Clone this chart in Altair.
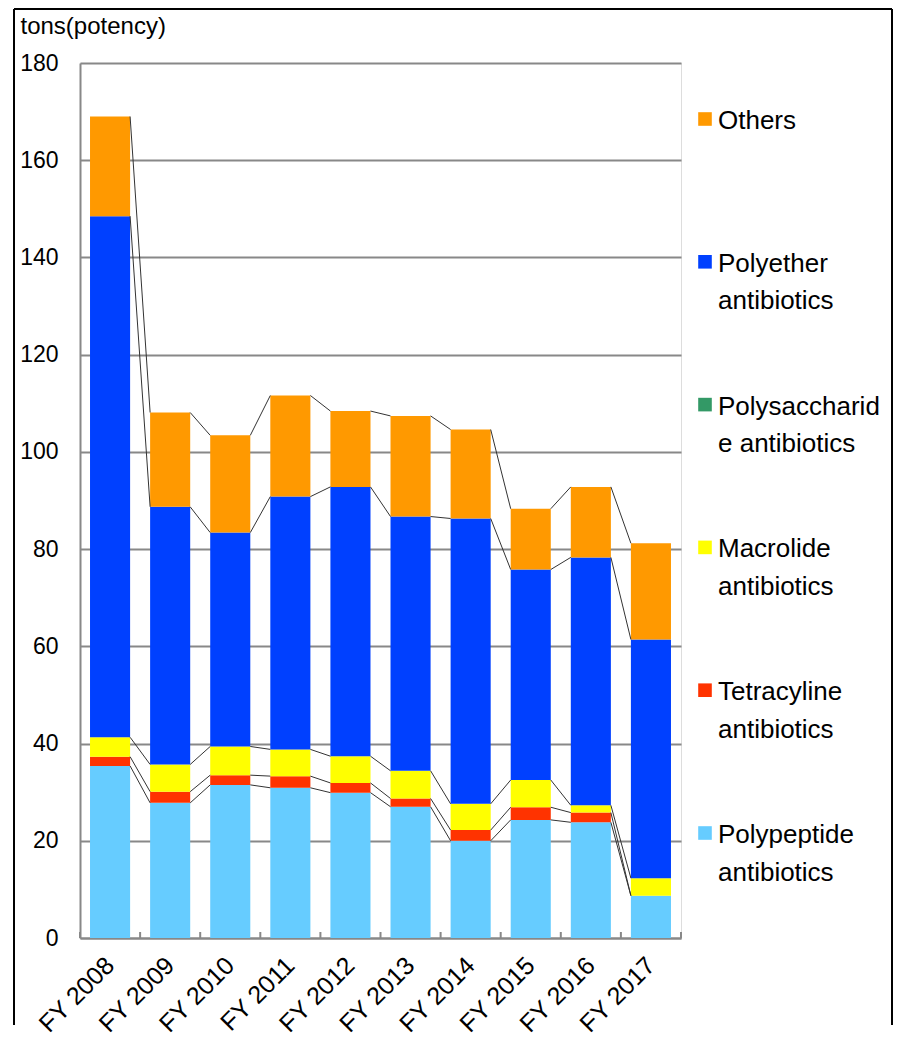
import altair as alt
import pandas as pd

years = ["FY 2008", "FY 2009", "FY 2010", "FY 2011", "FY 2012",
         "FY 2013", "FY 2014", "FY 2015", "FY 2016", "FY 2017"]

series = ["Polypeptide antibiotics", "Tetracyline antibiotics", "Macrolide antibiotics",
          "Polysaccharide antibiotics", "Polyether antibiotics", "Others"]

polypeptide = [35.4, 27.8, 31.5, 30.9, 29.9, 27.0, 20.0, 24.3, 23.8, 8.7]
tetracycline = [1.9, 2.3, 2.0, 2.4, 2.0, 1.7, 2.2, 2.6, 2.0, 0.0]
macrolide = [4.0, 5.6, 5.9, 5.5, 5.5, 5.7, 5.4, 5.6, 1.5, 3.6]
polysaccharide = [0.0, 0.0, 0.0, 0.0, 0.0, 0.0, 0.0, 0.0, 0.0, 0.0]
polyether = [107.2, 53.0, 44.0, 52.0, 55.4, 52.3, 58.7, 43.3, 51.0, 49.1]
others = [20.5, 19.4, 20.0, 20.8, 15.6, 20.7, 18.3, 12.5, 14.5, 19.8]

colors = ["#66CCFF", "#FF3300", "#FFFF00", "#339966", "#0040FF", "#FF9900"]

legend_order = ["Others", "Polyether antibiotics", "Polysaccharide antibiotics",
                "Macrolide antibiotics", "Tetracyline antibiotics", "Polypeptide antibiotics"]
legend_labels = ["Others", "Polyether\nantibiotics", "Polysaccharid\ne antibiotics",
                 "Macrolide\nantibiotics", "Tetracyline\nantibiotics", "Polypeptide\nantibiotics"]

FONT = "Liberation Sans"

# ---- build tables ----
values = [polypeptide, tetracycline, macrolide, polysaccharide, polyether, others]
rows = []
cum_tops = []
for k, s in enumerate(series):
    tops = []
    for i, yr in enumerate(years):
        base = sum(values[j][i] for j in range(k))
        rows.append({"year": yr, "series": s, "y0": base, "y1": base + values[k][i]})
        tops.append(base + values[k][i])
    cum_tops.append(tops)
bar_df = pd.DataFrame(rows)

line_rows = []
for k, s in enumerate(series):
    if s == "Polysaccharide antibiotics":
        continue
    for i in range(len(years) - 1):
        line_rows.append({"year": years[i], "next_year": years[i + 1],
                          "top": cum_tops[k][i], "next_top": cum_tops[k][i + 1]})
line_df = pd.DataFrame(line_rows)

leg_df = pd.DataFrame({"series": legend_order, "label": legend_labels})
tick_df = pd.DataFrame({"year": years})
end_df = pd.DataFrame({"year": years[-1:]})
frame_df = pd.DataFrame({"k": [0]})

x_scale = alt.Scale(domain=years, paddingInner=0.333, paddingOuter=0.1667)
y_scale = alt.Scale(domain=[0, 180], nice=False)
color_scale = alt.Scale(domain=series, range=colors)

x_axis = alt.Axis(title=None, labelAngle=-45, labelAlign="right",
                  labelBaseline="middle", labelFontSize=25, labelPadding=23,
                  labelOverlap=False, ticks=False, domainColor="#888888", domainWidth=2,
                  labelColor="black", grid=False, labelFont=FONT)


def xenc(field, bp):
    return alt.X(field, type="nominal", scale=x_scale, sort=years, bandPosition=bp, axis=x_axis)


bars = alt.Chart(bar_df).mark_bar().encode(
    x=alt.X("year:N", scale=x_scale, sort=years, axis=x_axis),
    y=alt.Y("y0:Q", scale=y_scale,
            axis=alt.Axis(title="tons(potency)", titleAngle=0, titleX=-60, titleY=-30,
                          titleAlign="left", titleBaseline="alphabetic", titleFontSize=24,
                          titleFontWeight="normal", titleFont=FONT, titleColor="black",
                          values=list(range(0, 181, 20)), ticks=False,
                          labelFontSize=23, labelPadding=22, labelColor="black", labelFont=FONT,
                          gridColor="#888888", gridWidth=2, domainColor="#888888",
                          domainWidth=2)),
    y2="y1:Q",
    color=alt.Color("series:N", scale=color_scale, legend=None),
)

ticks = alt.Chart(tick_df).mark_rule(color="#888888", strokeWidth=2, xOffset=-10).encode(
    x=xenc("year", 0),
    y=alt.value(875), y2=alt.value(869),
)
tick_end = alt.Chart(end_df).mark_rule(color="#888888", strokeWidth=2, xOffset=10).encode(
    x=xenc("year", 1),
    y=alt.value(875), y2=alt.value(869),
)

lines = alt.Chart(line_df).mark_rule(color="#333333", strokeWidth=1).encode(
    x=xenc("year", 1),
    x2=alt.X2("next_year", bandPosition=0),
    y=alt.Y("top:Q", scale=y_scale, axis=None),
    y2="next_top:Q",
)

leg_y = alt.Y("series:N", scale=alt.Scale(domain=legend_order, range=[56, 770], padding=0),
              axis=None)
leg_sq = alt.Chart(leg_df).mark_square(size=185, opacity=1).encode(
    x=alt.value(625), y=leg_y,
    color=alt.Color("series:N", scale=color_scale, legend=None),
)
leg_tx = alt.Chart(leg_df).mark_text(
    align="left", baseline="top", dy=-11, fontSize=26, lineHeight=37.5,
    lineBreak="\n", font=FONT, color="black",
).encode(x=alt.value(638), y=leg_y, text="label:N")

frame_left = alt.Chart(frame_df).mark_rule(color="black", strokeWidth=2).encode(
    x=alt.value(-66), y=alt.value(-54), y2=alt.value(962))
frame_top = alt.Chart(frame_df).mark_rule(color="black", strokeWidth=2).encode(
    x=alt.value(-66), x2=alt.value(812), y=alt.value(-54))
frame_right = alt.Chart(frame_df).mark_rule(color="black", strokeWidth=2).encode(
    x=alt.value(812), y=alt.value(-54), y2=alt.value(962))

chart = alt.layer(
    bars, ticks, tick_end, lines, leg_sq, leg_tx, frame_left, frame_top, frame_right
).resolve_scale(y="independent").properties(
    width=601, height=875,
    padding={"left": 5, "top": 0, "right": 0, "bottom": 0},
).configure_view(stroke=None).configure(font=FONT)

chart.save("out.html", embed_options={"renderer": "svg", "actions": False})
